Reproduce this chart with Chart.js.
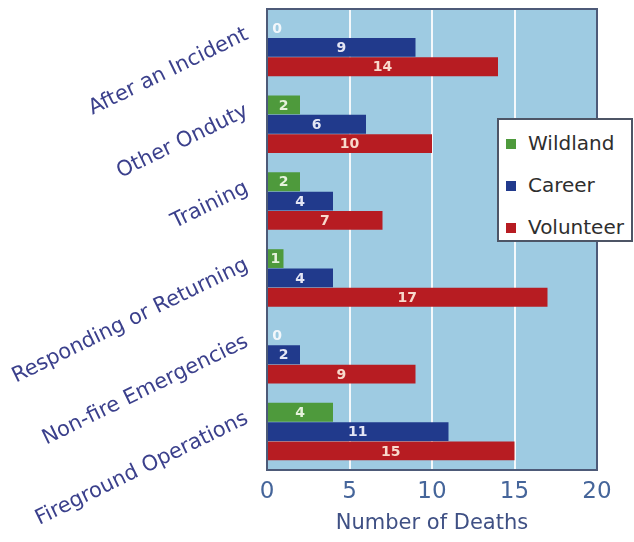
<!DOCTYPE html>
<html>
<head>
<meta charset="utf-8">
<script src="https://cdn.jsdelivr.net/npm/chart.js@4.4.1/dist/chart.umd.min.js"></script>
<style>
  html, body { margin: 0; padding: 0; background: #fff; }
  #wrap { position: relative; width: 634px; height: 542px; }
  #legend {
    position: absolute; left: 497px; top: 118px; width: 132px; height: 120px;
    background: #fff; border: 2px solid #4d5566;
    font-family: "DejaVu Sans", sans-serif; font-size: 20px; color: #2e2e2e;
  }
  #legend div { position: absolute; left: 7px; height: 22px; line-height: 22px; white-space: nowrap; }
  #legend span { display: inline-block; width: 10px; height: 10px; margin-right: 12px; vertical-align: 1px; }
</style>
</head>
<body>
<div id="wrap">
  <canvas id="chart" width="634" height="542"></canvas>
  <div id="legend"></div>
</div>
<script>
// data
const categories = ['After an Incident', 'Other Onduty', 'Training', 'Responding or Returning', 'Non-fire Emergencies', 'Fireground Operations'];
const wildland = [0, 2, 2, 1, 0, 4];
const career = [9, 6, 4, 4, 2, 11];
const volunteer = [14, 10, 7, 17, 9, 15];
const xTicks = [0, 5, 10, 15, 20];
const seriesNames = ['Wildland', 'Career', 'Volunteer'];

const colors = ['#4e9a3c', '#213a8c', '#b71c22'];
const labelColors = ['#e6f2dc', '#e4e6f4', '#f8d9cc'];

// plot background, grid, frame and bar values
const frame = {
  id: 'frame',
  beforeDatasetsDraw(chart) {
    const a = chart.chartArea, ctx = chart.ctx;
    ctx.save();
    ctx.fillStyle = '#9ecbe2';
    ctx.fillRect(a.left, a.top, a.right - a.left, a.bottom - a.top);
    const x = chart.scales.x;
    ctx.strokeStyle = '#f4f8fb';
    ctx.lineWidth = 2;
    xTicks.slice(1, -1).forEach(v => {
      const px = Math.round(x.getPixelForValue(v));
      ctx.beginPath();
      ctx.moveTo(px, a.top);
      ctx.lineTo(px, a.bottom);
      ctx.stroke();
    });
    ctx.restore();
  },
  afterDatasetsDraw(chart) {
    const a = chart.chartArea, ctx = chart.ctx;
    ctx.save();
    ctx.strokeStyle = '#4d5a78';
    ctx.lineWidth = 2;
    ctx.strokeRect(a.left, a.top, a.right - a.left, a.bottom - a.top);
    ctx.font = 'bold 14px "DejaVu Sans", sans-serif';
    ctx.textAlign = 'center';
    ctx.textBaseline = 'middle';
    chart.data.datasets.forEach((ds, i) => {
      const meta = chart.getDatasetMeta(i);
      meta.data.forEach((bar, j) => {
        const v = ds.data[j];
        let cx = (bar.x + bar.base) / 2;
        if (v === 0) {
          cx = bar.base + 10;
          ctx.fillStyle = '#f2f7fb';
        } else {
          ctx.fillStyle = labelColors[i];
        }
        ctx.fillText(String(v), cx, bar.y + 1);
      });
    });
    ctx.restore();
  }
};

const chart = new Chart(document.getElementById('chart'), {
  type: 'bar',
  data: {
    labels: categories,
    datasets: [wildland, career, volunteer].map((d, i) => ({
      label: seriesNames[i],
      data: d,
      backgroundColor: colors[i],
      borderWidth: 0,
      barPercentage: 0.97,
      categoryPercentage: 0.755
    }))
  },
  options: {
    indexAxis: 'y',
    responsive: false,
    animation: false,
    layout: { padding: { left: 0, right: 37, top: 9, bottom: 0 } },
    plugins: {
      legend: { display: false },
      tooltip: { enabled: false }
    },
    scales: {
      x: {
        min: 0, max: 20,
        afterBuildTicks: s => { s.ticks = xTicks.map(v => ({ value: v })); },
        afterFit: s => { s.height = 72; s.paddingLeft = 0; s.paddingRight = 0; },
        grid: { display: false, drawTicks: false },
        border: { display: false },
        ticks: {
          padding: 8,
          color: '#45659a',
          font: { family: '"DejaVu Sans", sans-serif', size: 23 }
        },
        title: {
          display: true,
          text: 'Number of Deaths',
          color: '#3f5084',
          padding: { top: 4, bottom: 6 },
          font: { family: '"DejaVu Sans", sans-serif', size: 21 }
        }
      },
      y: {
        afterFit: s => { s.width = 267; s.paddingTop = 0; s.paddingBottom = 0; },
        grid: { display: false, drawTicks: false },
        border: { display: false },
        ticks: {
          minRotation: 26,
          maxRotation: 26,
          labelOffset: -14,
          padding: 20,
          color: '#3b408c',
          font: { family: '"DejaVu Sans", sans-serif', size: 21 }
        }
      }
    }
  },
  plugins: [frame]
});

// legend box placed over the plot, built from the datasets
const legend = document.getElementById('legend');
chart.data.datasets.forEach((ds, i) => {
  const row = document.createElement('div');
  row.style.top = (12 + i * 42) + 'px';
  row.innerHTML = '<span style="background:' + ds.backgroundColor + '"></span>' + ds.label;
  legend.appendChild(row);
});
</script>
</body>
</html>
